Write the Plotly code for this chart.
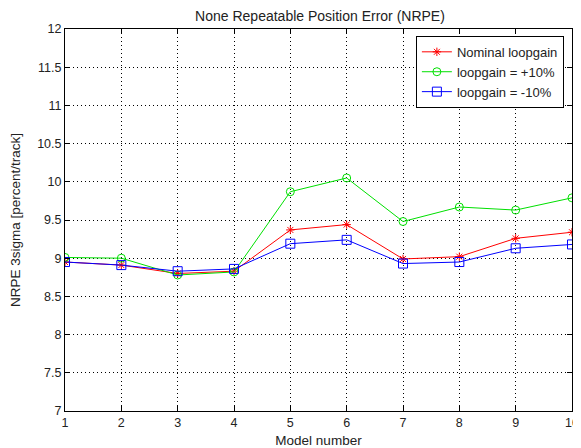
import plotly.graph_objects as go

models = [1, 2, 3, 4, 5, 6, 7, 8, 9, 10]
nominal = [8.95, 8.91, 8.80, 8.83, 9.37, 9.44, 8.99, 9.02, 9.26, 9.34]
plus10 = [9.01, 9.00, 8.78, 8.82, 9.87, 10.05, 9.48, 9.67, 9.63, 9.79]
minus10 = [8.95, 8.91, 8.83, 8.86, 9.19, 9.24, 8.93, 8.95, 9.13, 9.18]
yticks = [7, 7.5, 8, 8.5, 9, 9.5, 10, 10.5, 11, 11.5, 12]

fig = go.Figure()
fig.add_trace(go.Scatter(x=models, y=nominal, mode="lines+markers", name="Nominal loopgain",
                         line=dict(color="#ff0000", width=1),
                         marker=dict(symbol="asterisk-open", size=7, color="#ff0000", line=dict(color="#ff0000", width=1))))
fig.add_trace(go.Scatter(x=models, y=plus10, mode="lines+markers", name="loopgain = +10%",
                         line=dict(color="#00e000", width=1),
                         marker=dict(symbol="circle-open", size=8, color="#00e000", line=dict(width=1))))
fig.add_trace(go.Scatter(x=models, y=minus10, mode="lines+markers", name="loopgain = -10%",
                         line=dict(color="#0000ff", width=1),
                         marker=dict(symbol="square-open", size=9, color="#0000ff", line=dict(width=1))))

axis_common = dict(showline=True, linecolor="black", linewidth=1, mirror="ticks",
                   ticks="inside", ticklen=5, tickcolor="black", automargin=False,
                   showgrid=True, gridcolor="black", griddash="1px,3px", gridwidth=1,
                   zeroline=False, tickfont=dict(size=12.5, color="#222"))

fig.update_xaxes(range=[1, 10], tickvals=models, title=dict(text="Model number", standoff=6, font=dict(size=13.5)),
                 **axis_common)
fig.update_yaxes(range=[7, 12], tickvals=yticks, ticktext=[("%g" % v) for v in yticks],
                 title=dict(text="NRPE 3sigma [percent/track]", standoff=17, font=dict(size=13.5)),
                 **axis_common)

# the page body adds an 8px offset; margins compensate for it
fig.update_layout(
    width=581, height=448,
    margin=dict(l=57, r=17, t=21, b=45, autoexpand=False),
    paper_bgcolor="white", plot_bgcolor="white",
    font=dict(family="Liberation Sans, Arial, sans-serif", size=12, color="#222"),
    title=dict(text="None Repeatable Position Error (NRPE)", x=0.537, xanchor="center",
               y=0.994, yanchor="top", pad=dict(t=0, b=0, l=0, r=0), font=dict(size=14)),
    legend=dict(x=0.984, y=0.982, xanchor="right", yanchor="top", bordercolor="black", borderwidth=1,
                bgcolor="white", font=dict(size=13), itemwidth=30, tracegroupgap=0),
    showlegend=True,
)

fig.write_html("out.html")
